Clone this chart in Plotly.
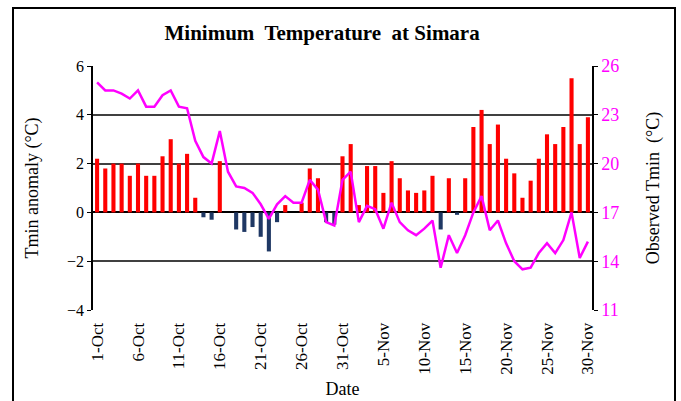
import pandas as pd
import plotly.graph_objects as go

# daily labels 1-Oct .. 30-Nov
dates = [f"{d.day}-{d.strftime('%b')}" for d in pd.date_range("2023-10-01", "2023-11-30")]

anomaly = [
    2.2, 1.8, 2.0, 2.0, 1.5, 2.0, 1.5, 1.5, 2.3, 3.0,
    2.0, 2.4, 0.6, -0.2, -0.3, 2.1, 0.0, -0.7, -0.8, -0.6,
    -1.0, -1.6, -0.4, 0.3, 0.0, 0.4, 1.8, 1.4, -0.4, -0.5,
    2.3, 2.8, 0.3, 1.9, 1.9, 0.8, 2.1, 1.4, 0.9, 0.8,
    0.9, 1.5, -0.7, 1.4, -0.1, 1.4, 3.5, 4.2, 2.8, 3.6,
    2.2, 1.6, 0.6, 1.3, 2.2, 3.2, 2.8, 3.5, 5.5, 2.8,
    3.9,
]

tmin = [
    25.0, 24.5, 24.5, 24.3, 24.0, 24.5, 23.5, 23.5, 24.2, 24.5,
    23.5, 23.4, 21.4, 20.4, 20.0, 22.0, 19.5, 18.6, 18.5, 18.2,
    17.5, 16.6, 17.5, 18.0, 17.6, 17.6, 19.0, 18.4, 16.4, 16.2,
    19.0, 19.5, 16.4, 17.4, 17.2, 16.0, 17.6, 16.4, 15.9, 15.6,
    16.0, 16.5, 13.6, 15.6, 14.5, 15.6, 17.0, 18.0, 15.9, 16.5,
    15.1, 14.0, 13.5, 13.6, 14.5, 15.1, 14.5, 15.3, 17.0, 14.2,
    15.2,
]

tick_labels = dates[::5]

bar_colors = ["#FF0000" if v >= 0 else "#1F3864" for v in anomaly]
serif = "Liberation Serif, Times New Roman, serif"

fig = go.Figure()

fig.add_trace(
    go.Bar(
        x=dates,
        y=anomaly,
        marker=dict(color=bar_colors, line=dict(width=0)),
        width=0.5,
        name="Anomaly",
    )
)

fig.add_trace(
    go.Scatter(
        x=dates,
        y=tmin,
        mode="lines",
        line=dict(color="#FF00FF", width=2.5),
        yaxis="y2",
        name="Observed Tmin",
    )
)

fig.update_layout(
    width=681,
    height=401,
    margin=dict(l=93, r=89, t=66, b=91),
    paper_bgcolor="white",
    plot_bgcolor="white",
    showlegend=False,
    font=dict(family=serif, color="black", size=16),
    title=dict(
        text="<b>Minimum  Temperature  at Simara</b>",
        x=0.473,
        xanchor="center",
        y=0.918,
        yanchor="middle",
        font=dict(family=serif, size=21, color="black"),
    ),
    xaxis=dict(
        type="category",
        range=[-0.5, 60.5],
        tickmode="array",
        tickvals=tick_labels,
        ticktext=tick_labels,
        tickangle=-90,
        tickfont=dict(size=17),
        showgrid=False,
        showline=False,
        ticks="outside",
        ticklen=5,
        tickcolor="rgba(0,0,0,0)",
        automargin=False,
        title=dict(text="Date", font=dict(size=18), standoff=8),
    ),
    yaxis=dict(
        range=[-4, 6],
        tickvals=[-4, -2, 0, 2, 4, 6],
        tickfont=dict(size=16),
        showgrid=True,
        gridcolor="#404040",
        gridwidth=1.5,
        zeroline=True,
        zerolinecolor="black",
        zerolinewidth=1.5,
        showline=True,
        linecolor="black",
        linewidth=1.5,
        ticks="outside",
        ticklen=4,
        tickcolor="black",
        automargin=False,
        title=dict(text="Tmin anomaly (°C)", font=dict(size=18), standoff=24),
    ),
    yaxis2=dict(
        range=[11, 26],
        tickvals=[11, 14, 17, 20, 23, 26],
        tickfont=dict(size=18, color="#FF00FF"),
        overlaying="y",
        side="right",
        showgrid=False,
        zeroline=False,
        showline=True,
        linecolor="black",
        linewidth=1.5,
        ticks="outside",
        ticklen=4,
        tickcolor="black",
        automargin=False,
        title=dict(text="Observed Tmin  (°C)", font=dict(size=18), standoff=28),
    ),
    shapes=[
        dict(
            type="rect",
            xref="paper",
            yref="paper",
            x0=(13 - 93) / 499,
            x1=(675 - 93) / 499,
            y0=-0.6,
            y1=(310 - 8) / 244,
            line=dict(color="black", width=2),
            layer="below",
        )
    ],
)

# drop the browser's default 8px body margin so the figure sits at the page origin
fig.write_html(
    "out.html",
    config={"displayModeBar": False},
    post_script="document.body.style.margin='0';",
)
